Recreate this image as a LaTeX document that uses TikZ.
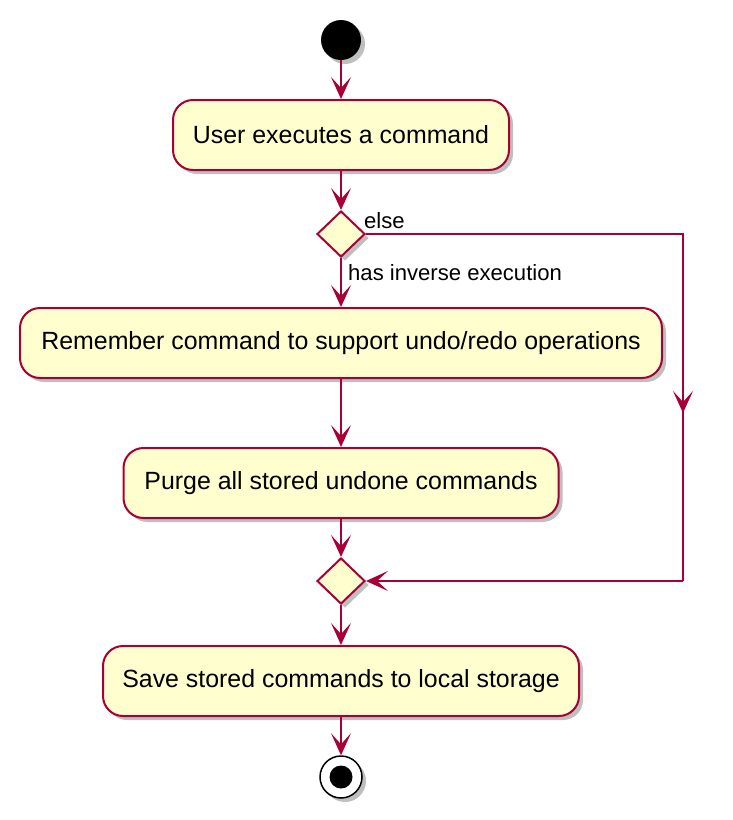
\documentclass[tikz,border=0pt]{standalone}
\usepackage{fontspec}
\setmainfont{Liberation Sans}
\usetikzlibrary{shapes.geometric,arrows.meta,shadows}
\definecolor{border}{HTML}{A80036}
\definecolor{boxfill}{HTML}{FEFECE}
\begin{document}
\begin{tikzpicture}[x=1pt,y=-1pt,
  shad/.style={drop shadow={shadow xshift=4pt,shadow yshift=-4pt,fill=black,opacity=0.25}},
  act/.style={draw=border,fill=boxfill,line width=2pt,rounded corners=20pt,minimum height=70pt,inner sep=0pt,font=\fontsize{24.9}{30}\selectfont,shad},
  dec/.style={diamond,draw=border,fill=boxfill,line width=2pt,minimum width=48pt,minimum height=46pt,inner sep=0pt,shad},
  conn/.style={draw=border,line width=2pt},
  flow/.style={conn,-{Stealth[length=22pt,width=20pt,inset=11pt]}},
  lbl/.style={font=\fontsize{22.1}{26}\selectfont,anchor=west,inner sep=0pt}]
\useasboundingbox (0,0) rectangle (732,820);
\node[circle,fill=black,minimum size=40pt,inner sep=0pt,shad] (start) at (341,40) {};
\node[act,minimum width=336pt] (a1) at (341,135) {User executes a command};
\node[dec] (d1) at (341,234) {};
\node[act,minimum width=642pt] (a2) at (341,343) {Remember command to support undo/redo operations};
\node[act,minimum width=435pt] (a3) at (341,483) {Purge all stored undone commands};
\node[dec] (d2) at (341,581) {};
\node[act,minimum width=476pt] (a4) at (341,681) {Save stored commands to local storage};
\node[circle,draw=black,line width=1.5pt,fill=white,minimum size=42pt,inner sep=0pt,shad] (stop) at (341,777) {};
\node[circle,fill=black,minimum size=23pt,inner sep=0pt] (stopin) at (stop.center) {};
\coordinate (c1) at (683,234);
\coordinate (cm) at (683,413);
\coordinate (c2) at (683,581);
\draw[flow] (start) -- (a1);
\draw[flow] (a1) -- (d1);
\draw[flow] (d1) -- (a2);
\draw[flow] (a2) -- (a3);
\draw[flow] (a3) -- (d2);
\draw[flow] (d2) -- (a4);
\draw[flow] (a4) -- (stop);
\draw[conn] (d1.east) -- (c1) -- (c2);
\draw[flow] (c1) -- (cm);
\draw[flow] (c2) -- (d2.east);
\node[lbl] (lelse) at (364,221) {else};
\node[lbl] (lhas) at (348,273) {has inverse execution};
\end{tikzpicture}
\end{document}
